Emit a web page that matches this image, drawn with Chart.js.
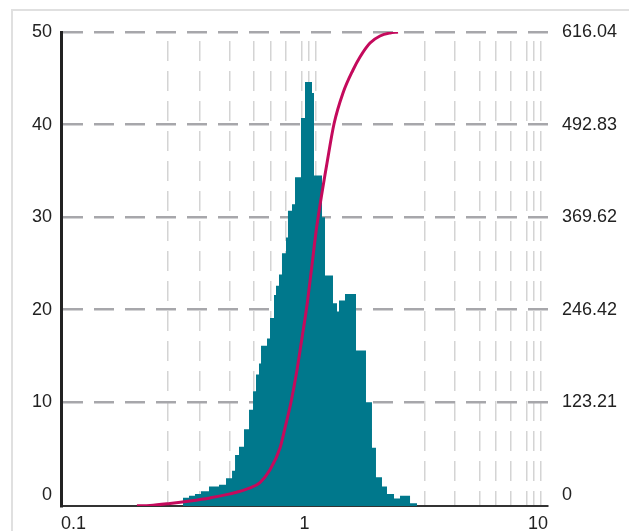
<!DOCTYPE html>
<html>
<head>
<meta charset="utf-8">
<script src="https://cdn.jsdelivr.net/npm/chart.js@4.4.1/dist/chart.umd.min.js"></script>
<style>
  html, body { margin: 0; padding: 0; background: #fff; overflow: hidden; }
  #frame { position: absolute; left: 11px; top: 9px; width: 700px; height: 600px;
           border-left: 2px solid #e0e0e0; border-top: 2px solid #e0e0e0; }
  #chart { position: absolute; left: 0; top: 0; }
</style>
</head>
<body>
<div id="frame"></div>
<canvas id="chart" width="629" height="531"></canvas>
<script>
// histogram: bin edges on the size axis (one more edge than counts) and counts per bin
const binEdges = [0.3170, 0.3355, 0.3550, 0.3757, 0.4053, 0.4456, 0.4761, 0.5040, 0.5185, 0.5383,
  0.5644, 0.5918, 0.6146, 0.6322, 0.6503, 0.6629, 0.7015, 0.7217, 0.7495, 0.7638,
  0.7857, 0.8082, 0.8395, 0.8553, 0.8885, 0.9142, 0.9674, 1.0048, 1.0735, 1.0940,
  1.1801, 1.2140, 1.3092, 1.3598, 1.3858, 1.4666, 1.6274, 1.7886, 1.8928, 1.9658,
  2.0808, 2.1816, 2.3315, 2.4675, 2.7127, 2.8973];
const binCounts = [-0.3, -0.1, 0.1, 0.4, 0.9, 1.1, 1.8, 2.6, 4.3, 5.2,
  7.1, 9.2, 11.2, 13.0, 14.2, 16.1, 16.9, 19.1, 21.6, 22.6,
  23.8, 26.1, 27.8, 30.7, 31.4, 34.3, 40.7, 44.6, 43.4, 34.5,
  30.0, 23.7, 20.7, 19.8, 21.0, 21.7, 15.6, 10.0, 5.1, 1.9,
  0.9, 0.1, -0.4, -0.1, -0.9];

// cumulative curve (right axis)
const cumSize = [0.2051, 0.2320, 0.2804, 0.3387, 0.4091, 0.4943, 0.5974, 0.6564, 0.7217, 0.7932,
  0.8316, 0.8804, 0.9315, 0.9766, 1.0240, 1.0735, 1.1149, 1.1581, 1.2373, 1.3216,
  1.4390, 1.5820, 1.6901, 1.8578, 2.0420, 2.2441, 2.4210];
const cumTotal = [-14.6, -14.0, -11.3, -8.0, -4.0, 1.3, 9.3, 16.4, 33.3, 62.5,
  89.1, 123.7, 166.3, 208.9, 252.8, 306.0, 349.9, 385.8, 441.7, 493.6,
  534.9, 565.5, 582.8, 601.4, 610.7, 614.7, 616.0];

// axes
const xTickValues = [0.1, 1, 10];
const xTickLabels = ['0.1', '1', '10'];
const xGridValues = [0.274, 0.370, 0.494, 0.616, 0.726, 0.840, 0.974, 1.043, 1.115,
  3.125, 4.150, 5.224, 6.097, 7.047, 8.175, 8.759, 9.36];
const leftTicks = [0, 10, 20, 30, 40, 50];
const rightTicks = [0, 123.21, 246.42, 369.62, 492.83, 616.04];
const rightLabels = ['0', '123.21', '246.42', '369.62', '492.83', '616.04'];

const FONT = "'Liberation Sans Narrow', 'Liberation Sans', Arial, sans-serif";
Chart.defaults.font.family = FONT;
Chart.defaults.color = '#222';

const histPoints = binEdges.map((x, i) => ({ x: x, y: binCounts[Math.min(i, binCounts.length - 1)] }));
const cumPoints = cumSize.map((x, i) => ({ x: x, y: cumTotal[i] }));
const allXTicks = xTickValues.concat(xGridValues).sort((a, b) => a - b);
const near = (a, b) => Math.abs(a - b) < 1e-9;

new Chart(document.getElementById('chart'), {
  type: 'line',
  data: {
    datasets: [
      {
        label: 'cumulative',
        data: cumPoints,
        yAxisID: 'y2',
        borderColor: '#c40a5c',
        borderWidth: 3,
        pointRadius: 0,
        fill: false,
        cubicInterpolationMode: 'monotone'
      },
      {
        label: 'count',
        data: histPoints,
        yAxisID: 'y',
        stepped: 'before',
        borderWidth: 0,
        borderColor: '#00788c',
        backgroundColor: '#00788c',
        pointRadius: 0,
        fill: 'start'
      }
    ]
  },
  options: {
    responsive: false,
    animation: false,
    devicePixelRatio: 1,
    layout: { padding: { top: 32, left: 0, right: 0, bottom: 0 } },
    plugins: { legend: { display: false }, tooltip: { enabled: false } },
    scales: {
      x: {
        type: 'logarithmic',
        min: 0.1,
        max: 10,
        afterBuildTicks: s => { s.ticks = allXTicks.map(v => ({ value: v })); },
        afterFit: s => { s.height = 25; },
        ticks: {
          autoSkip: false,
          maxRotation: 0,
          minRotation: 0,
          align: 'inner',
          padding: 7,
          font: { size: 18 },
          callback: v => {
            const i = xTickValues.findIndex(t => near(t, v));
            return i >= 0 ? xTickLabels[i] : '';
          }
        },
        grid: {
          drawTicks: false,
          lineWidth: 1.5,
          color: c => (c.tick && xGridValues.some(g => near(g, c.tick.value))) ? '#d4d4d4' : 'rgba(0,0,0,0)'
        },
        border: { display: true, color: '#333', width: 2, dash: [20, 10], dashOffset: 21 }
      },
      y: {
        position: 'left',
        min: -1.2,
        max: 50,
        afterBuildTicks: s => { s.ticks = leftTicks.map(v => ({ value: v })); },
        afterFit: s => { s.width = 61; },
        ticks: { padding: 9, font: { size: 18 }, callback: v => String(v) },
        grid: {
          drawTicks: false,
          lineWidth: 2.5,
          color: c => (c.tick && c.tick.value === 0) ? 'rgba(0,0,0,0)' : '#a7a7ab'
        },
        border: { display: true, color: '#222', width: 3, dash: [20, 11] }
      },
      y2: {
        position: 'right',
        min: -14.78,
        max: 616.04,
        afterBuildTicks: s => { s.ticks = rightTicks.map(v => ({ value: v })); },
        afterFit: s => { s.width = 81; },
        ticks: {
          padding: 14,
          font: { size: 18 },
          callback: v => {
            const i = rightTicks.findIndex(t => near(t, v));
            return i >= 0 ? rightLabels[i] : '';
          }
        },
        grid: { display: false, drawTicks: false },
        border: { display: false }
      }
    }
  }
});
</script>
</body>
</html>
